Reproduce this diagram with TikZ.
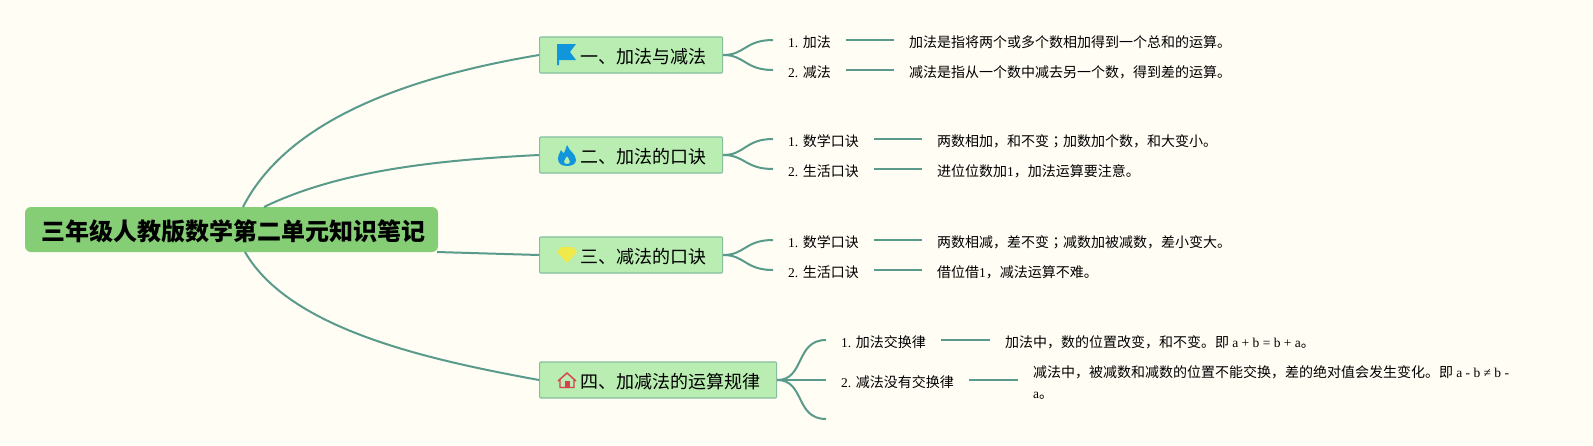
\documentclass[tikz,border=0pt]{standalone}
\usepackage{fontspec}
\setmainfont{Noto Sans CJK SC}
\newfontfamily\latin{Liberation Serif}
\newfontfamily\tcfont{Noto Sans CJK TC}
\newcommand{\lat}[1]{{\latin\fontsize{13.5}{21}\selectfont #1}}
\usetikzlibrary{positioning}
\definecolor{paper}{HTML}{FFFDF4}
\definecolor{rootgreen}{HTML}{85CE75}
\definecolor{topicgreen}{HTML}{B9EDB1}
\definecolor{topicedge}{HTML}{85BFA0}
\definecolor{branch}{HTML}{5A9A8A}
\definecolor{iconblue}{HTML}{1296DB}
\definecolor{iconyellow}{HTML}{EFE94A}
\definecolor{iconred}{HTML}{D9404F}
\tikzset{
	rootbox/.style={fill=rootgreen, rounded corners=6, minimum width=413, minimum height=45, inner sep=0, text height=25, text depth=3, font=\fontsize{24}{28}\selectfont\bfseries},
	topic/.style={draw=topicedge, fill=topicgreen, line width=1.2, rounded corners=1, anchor=west, minimum height=36, inner ysep=0, inner xsep=16, text width=#1, text height=18, text depth=2, align=right, font=\fontsize{18}{22}\selectfont},
	sub/.style={anchor=west, inner ysep=0, inner xsep=15, text height=16, text depth=2, font=\fontsize{14}{21}\selectfont},
	note/.style={anchor=west, inner ysep=0, inner xsep=15, text height=16, text depth=2, font=\fontsize{14}{21}\selectfont},
	link/.style={draw=branch, line width=2},
}
\begin{document}
\begin{tikzpicture}[x=1pt, y=-1pt]
	\useasboundingbox (0,0) rectangle (1593,445);
	\fill[paper] (0,0) rectangle (1593,445);
	% exits from the root
	\coordinate (r1) at (243, 207);
	\coordinate (r2) at (264, 207);
	\coordinate (r3) at (437, 252);
	\coordinate (r4) at (245, 252);
	% root and topics
	\node[rootbox] (root) at (231.5, 229.5) {\hspace*{3pt}三年级人教版数学第二单元知识笔记};
	\node[topic=151] (top1) at (539, 55) {一、加法与减法};
	\node[topic=151] (top2) at (539, 155) {二、加法的口诀};
	\node[topic=151] (top3) at (539, 255) {三、减法的口诀};
	\node[topic=205] (top4) at (539, 380) {四、加减法的运算规律};
	% sub items
	\node[sub] (s11) at (773, 40) {\lat{1. }加法};
	\node[sub] (s12) at (773, 70) {\lat{2. }减法};
	\node[sub] (s21) at (773, 139) {\lat{1. }数学口诀};
	\node[sub] (s22) at (773, 169) {\lat{2. }生活口诀};
	\node[sub] (s31) at (773, 240) {\lat{1. }数学口诀};
	\node[sub] (s32) at (773, 270) {\lat{2. }生活口诀};
	\node[sub] (s41) at (826, 340) {\lat{1. }加法交换律};
	\node[sub] (s42) at (826, 380) {\lat{2. }减法没有交换律};
	\coordinate (s43) at (826, 419);
	% notes
	\node[note] (d11) at (894, 40) {加法是指将两个或多个数相加得到一个总和的运算。};
	\node[note] (d12) at (894, 70) {减法是指从一个数中减去另一个数，得到差的运算。};
	\node[note] (d21) at (922, 139) {两数相加，和不变{\tcfont ；}加数加个数，和大变小。};
	\node[note] (d22) at (922, 169) {进位位数加\lat{1}，加法运算要注意。};
	\node[note] (d31) at (922, 240) {两数相减，差不变{\tcfont ；}减数加被减数，差小变大。};
	\node[note] (d32) at (922, 270) {借位借\lat{1}，减法运算不难。};
	\node[note] (d41) at (990, 340) {加法中，数的位置改变，和不变。即 \lat{a + b = b + a}。};
	\node[note, text height=, text depth=, align=left] (d42) at (1018, 382.5) {减法中，被减数和减数的位置不能交换，差的绝对值会发生变化。即 \lat{a - b ≠ b -}\\\lat{a}。};
	\draw[link] (r1) .. controls (290, 115) and (420, 75) .. (top1.west);
	\draw[link] (r2) .. controls (340, 170) and (440, 160) .. (top2.west);
	\draw[link] (r3) .. controls (470, 253) and (505, 254) .. (top3.west);
	\draw[link] (r4) .. controls (290, 330) and (430, 360) .. (top4.west);
	% forks
	\draw[link] (top1.east) .. controls (745, 55) and (745, 40) .. (s11.west);
	\draw[link] (top1.east) .. controls (745, 55) and (745, 70) .. (s12.west);
	\draw[link] (top2.east) .. controls (745, 155) and (745, 139) .. (s21.west);
	\draw[link] (top2.east) .. controls (745, 155) and (745, 169) .. (s22.west);
	\draw[link] (top3.east) .. controls (745, 255) and (745, 240) .. (s31.west);
	\draw[link] (top3.east) .. controls (745, 255) and (745, 270) .. (s32.west);
	\draw[link] (top4.east) .. controls (805, 380) and (795, 340) .. (s41.west);
	\draw[link] (top4.east) -- (s42.west);
	\draw[link] (top4.east) .. controls (805, 380) and (795, 419) .. (s43);
	% item to note
	\draw[link] (s11.east) -- (d11.west);
	\draw[link] (s12.east) -- (d12.west);
	\draw[link] (s21.east) -- (d21.west);
	\draw[link] (s22.east) -- (d22.west);
	\draw[link] (s31.east) -- (d31.west);
	\draw[link] (s32.east) -- (d32.west);
	\draw[link] (s41.east) -- (d41.west);
	\draw[link] (s42.east) -- (s42.east -| d42.west);
	% icons
	\fill[iconblue] (557,44)--(576,44)--(570,52)--(576,60)--(559,60)--(559,65)--(557,65)--cycle;
	\fill[iconblue, even odd rule] (567,145) .. controls (569,151) and (576,154) .. (576,160) .. controls (576,164) and (572,166) .. (567,166) .. controls (561,166) and (558,163) .. (558,159) .. controls (558,155) and (560,153) .. (561,150) .. controls (562,152) and (563,153) .. (564,153) .. controls (565,151) and (566,148) .. (567,145) -- cycle (567,156) .. controls (568,158) and (570,160) .. (570,161.5) .. controls (570,163) and (569,164) .. (567,164) .. controls (565,164) and (564,163) .. (564,161.5) .. controls (564,160) and (566,158) .. (567,156) -- cycle;
	\fill[iconyellow] (561,247)--(573,247)--(577,252)--(567,263)--(557,252)--cycle;
	\draw[iconred, line width=1.4] (558,381)--(567,373)--(576,381) (560,379)--(560,387.5)--(574,387.5)--(574,379);
	\fill[iconred] (564.5,381) rectangle (569.5,388);
\end{tikzpicture}
\end{document}
